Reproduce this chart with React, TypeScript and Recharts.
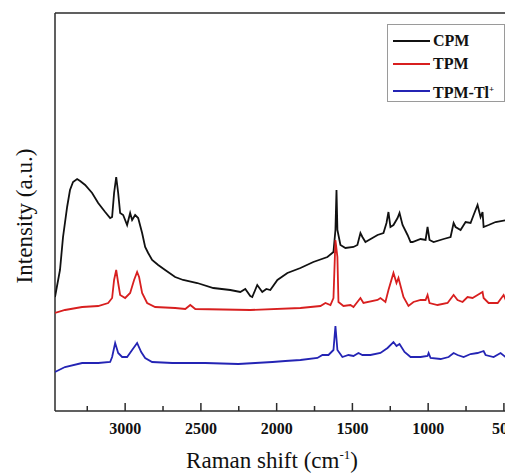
import { LineChart, Line, XAxis, YAxis, ReferenceLine } from 'recharts'

// wavenumber (cm-1) and relative intensity
const cpmShift = [3463, 3430, 3410, 3383, 3364, 3344, 3317, 3297, 3264, 3218, 3178, 3132, 3099, 3086, 3073, 3059, 3046, 3033, 3013, 2987, 2967, 2954, 2934, 2914, 2888, 2868, 2848, 2822, 2782, 2736, 2670, 2617, 2524, 2418, 2306, 2240, 2207, 2174, 2161, 2128, 2095, 2068, 2042, 1995, 1929, 1843, 1758, 1665, 1625, 1612, 1605, 1599, 1579, 1546, 1493, 1467, 1447, 1434, 1414, 1334, 1295, 1275, 1262, 1249, 1229, 1202, 1189, 1169, 1136, 1116, 1103, 1050, 1017, 1004, 991, 964, 898, 852, 832, 819, 786, 753, 720, 700, 674, 654, 641, 634, 601, 555, 475, 442]
const cpmIntensity = [114, 141, 174, 204, 221, 229, 232, 230, 226, 218, 208, 199, 193, 194, 218, 234, 218, 198, 196, 186, 198, 191, 196, 193, 178, 164, 158, 151, 146, 141, 134, 131, 128, 123, 121, 119, 122, 115, 114, 126, 119, 122, 121, 131, 138, 143, 149, 154, 159, 181, 221, 181, 166, 163, 164, 166, 178, 174, 169, 176, 178, 188, 199, 184, 186, 193, 198, 186, 176, 169, 169, 172, 171, 184, 171, 169, 172, 174, 188, 184, 181, 189, 188, 196, 206, 194, 199, 184, 186, 189, 191, 198]

const tpmShift = [3463, 3397, 3284, 3178, 3112, 3086, 3073, 3059, 3046, 3033, 3000, 2967, 2941, 2921, 2908, 2888, 2855, 2802, 2670, 2603, 2570, 2537, 2174, 1843, 1711, 1678, 1645, 1625, 1612, 1599, 1592, 1559, 1513, 1493, 1447, 1427, 1334, 1315, 1282, 1262, 1229, 1209, 1196, 1163, 1130, 1097, 1050, 1017, 1004, 991, 938, 872, 832, 806, 773, 740, 707, 674, 641, 634, 601, 541, 502, 482, 440]
const tpmIntensity = [98, 101, 104, 105, 108, 113, 131, 141, 128, 116, 113, 118, 131, 139, 134, 118, 108, 104, 103, 102, 106, 102, 101, 103, 105, 108, 106, 113, 171, 154, 109, 105, 106, 104, 113, 108, 111, 113, 109, 121, 138, 128, 133, 114, 105, 109, 111, 111, 116, 108, 106, 108, 116, 111, 109, 114, 113, 116, 119, 113, 108, 108, 116, 109, 109]

const tlShift = [3463, 3397, 3284, 3178, 3099, 3086, 3066, 3046, 3020, 2987, 2954, 2921, 2894, 2868, 2822, 2689, 2471, 2253, 2141, 2028, 1943, 1843, 1731, 1698, 1658, 1625, 1612, 1599, 1566, 1526, 1493, 1460, 1434, 1381, 1315, 1268, 1229, 1209, 1189, 1156, 1116, 1050, 1004, 997, 984, 918, 865, 832, 806, 766, 720, 674, 634, 621, 568, 522, 489, 440]
const tlIntensity = [39, 44, 48, 48, 49, 54, 68, 58, 54, 54, 61, 68, 59, 53, 49, 48, 48, 47, 48, 49, 50, 51, 53, 56, 56, 61, 85, 61, 54, 56, 55, 58, 56, 56, 58, 63, 69, 65, 67, 59, 54, 54, 55, 58, 53, 52, 54, 58, 56, 54, 57, 58, 60, 56, 54, 58, 54, 58]

const xTicks = [3250, 3000, 2750, 2500, 2250, 2000, 1750, 1500, 1250, 1000, 750, 500]
const xDomain = [440, 3463]
const yDomain = [0, 398]

const toPoints = (xs: number[], ys: number[]) => xs.map((x, i) => ({ shift: x, value: ys[i] }))

const series = [
  { name: 'CPM', sup: '', color: '#111111', data: toPoints(cpmShift, cpmIntensity) },
  { name: 'TPM', sup: '', color: '#d81f1f', data: toPoints(tpmShift, tpmIntensity) },
  { name: 'TPM-Tl', sup: '+', color: '#2424b4', data: toPoints(tlShift, tlIntensity) },
]

const serif = '"Liberation Serif", "Times New Roman", serif'
const frame = '#2b2b2b'

function BottomTick(props: any) {
  const { x, y, payload } = props
  const major = payload.value % 500 === 0
  return (
    <g>
      <line x1={x} x2={x} y1={y} y2={y - (major ? 8 : 5)} stroke={frame} strokeWidth={1.5} />
      {major && (
        <text x={x} y={y + 23} textAnchor="middle" fontFamily={serif} fontWeight="bold" fontSize={16} fill="#111">
          {payload.value}
        </text>
      )}
    </g>
  )
}

// axis titles, drawn in chart pixel space
function AxisTitles() {
  return (
    <g>
      <text x={264} y={460} textAnchor="middle" fontFamily={serif} fontSize={23} fill="#111">
        Raman shift (cm
        <tspan dy={-9} fontSize={13}>-1</tspan>
        <tspan dy={9}>)</tspan>
      </text>
      <text
        x={16}
        y={208}
        transform="rotate(-90 16 208)"
        textAnchor="middle"
        dominantBaseline="central"
        fontFamily={serif}
        fontSize={23}
        fill="#111"
      >
        Intensity (a.u.)
      </text>
    </g>
  )
}

function LegendBox() {
  const tops = [6, 29, 56]
  return (
    <div
      style={{
        position: 'absolute',
        left: 379,
        top: 16,
        width: 118,
        height: 78,
        border: '1px solid #9a9a9a',
        boxSizing: 'border-box',
        background: '#fff',
      }}
    >
      {series.map((s, i) => (
        <div key={s.name} style={{ position: 'absolute', left: 5, top: tops[i], display: 'flex', alignItems: 'center', height: 20 }}>
          <div style={{ width: 37, height: 0, borderTop: `2px solid ${s.color}` }} />
          <span style={{ fontFamily: serif, fontWeight: 'bold', fontSize: 16, color: '#111', marginLeft: 3, lineHeight: '20px' }}>
            {s.name}
            {s.sup && <sup style={{ fontSize: 9 }}>{s.sup}</sup>}
          </span>
        </div>
      ))}
    </div>
  )
}

export default function App() {
  return (
    <div style={{ position: 'relative', width: 505, height: 466 }}>
      <LineChart width={505} height={466} margin={{ top: 5, right: 0, left: 47, bottom: 0 }}>
        <XAxis
          dataKey="shift"
          type="number"
          domain={xDomain}
          reversed
          ticks={xTicks}
          interval={0}
          allowDataOverflow
          height={63}
          tickSize={0}
          tickMargin={0}
          tick={<BottomTick />}
          axisLine={{ stroke: frame, strokeWidth: 1.5 }}
          label={{ content: () => <AxisTitles /> }}
        />
        <YAxis type="number" domain={yDomain} hide />
        <ReferenceLine x={xDomain[1]} stroke={frame} strokeWidth={1.5} />
        <ReferenceLine y={yDomain[1]} stroke={frame} strokeWidth={1.5} />
        {series.map((s) => (
          <Line
            key={s.name}
            data={s.data}
            dataKey="value"
            name={s.name}
            stroke={s.color}
            strokeWidth={1.8}
            dot={false}
            type="linear"
            isAnimationActive={false}
          />
        ))}
      </LineChart>
      <LegendBox />
    </div>
  )
}
